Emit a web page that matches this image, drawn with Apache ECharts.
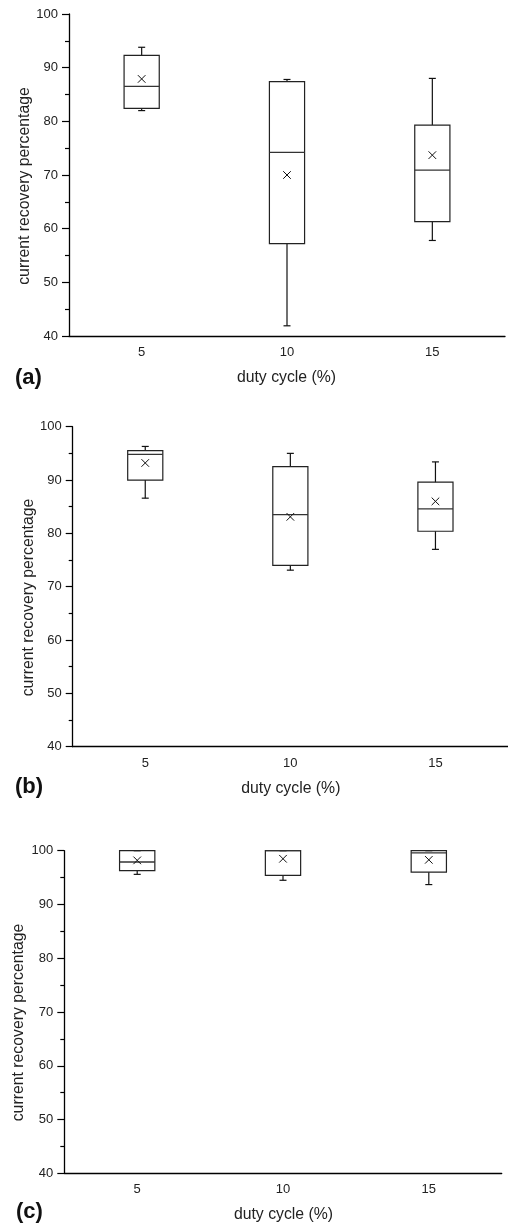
<!DOCTYPE html>
<html>
<head>
<meta charset="utf-8">
<script src="https://cdn.jsdelivr.net/npm/echarts@6/dist/echarts.min.js"></script>
<style>
html,body{margin:0;padding:0;background:#fff;}
#chart{width:508px;height:1225px;}
</style>
</head>
<body>
<div id="chart"></div>
<script>
// ---- data ----
const categories = ['5', '10', '15'];
const yTicks = [40, 50, 60, 70, 80, 90, 100];
const xTitle = 'duty cycle (%)';
const yTitle = 'current recovery percentage';
const panelLabels = ['(a)', '(b)', '(c)'];

// panel (a)
const aWhiskerLow  = [82.0, 41.9, 57.8];
const aQ1          = [82.4, 57.2, 61.3];
const aMedian      = [86.5, 74.2, 70.9];
const aQ3          = [92.3, 87.4, 79.3];
const aWhiskerHigh = [93.8, 87.8, 88.0];
const aMean        = [87.9, 70.0, 73.7];

// panel (b)
const bWhiskerLow  = [86.6, 73.1, 77.0];
const bQ1          = [90.0, 74.0, 80.4];
const bMedian      = [94.8, 83.5, 84.6];
const bQ3          = [95.5, 92.5, 89.6];
const bWhiskerHigh = [96.3, 95.0, 93.4];
const bMean        = [93.2, 83.1, 86.0];

// panel (c)
const cWhiskerLow  = [95.6, 94.5, 93.7];
const cQ1          = [96.3, 95.4, 96.0];
const cMedian      = [97.9, 100.0, 99.6];
const cQ3          = [100.0, 100.0, 100.0];
const cWhiskerHigh = [100.0, 100.0, 100.0];
const cMean        = [98.2, 98.5, 98.3];

const panels = [
  [aWhiskerLow, aQ1, aMedian, aQ3, aWhiskerHigh, aMean],
  [bWhiskerLow, bQ1, bMedian, bQ3, bWhiskerHigh, bMean],
  [cWhiskerLow, cQ1, cMedian, cQ3, cWhiskerHigh, cMean]
];

// ---- layout ----
const FONT = '"Liberation Sans", Arial, sans-serif';
const grids = [
  {left: 69,   top: 14,    width: 436,   height: 322},
  {left: 72.7, top: 426.7, width: 435.3, height: 320},
  {left: 64.3, top: 850.7, width: 437.4, height: 322.6}
];
const yTitlePos = [[25, 186], [28.3, 597.5], [18.3, 1022.5]];
const xTitlePos = [[286.5, 377.7], [290.8, 788.3], [283.5, 1215]];
const labelPos  = [[15, 378], [15, 786.7], [16, 1211.7]];

function renderItem(params, api) {
  const i = api.value(0);
  const x = api.coord([i, api.value(3)])[0];
  const bw = api.size([1, 0])[0] * 0.121;
  const y = v => api.coord([i, v])[1];
  const lo = y(api.value(1)), q1 = y(api.value(2)), md = y(api.value(3)),
        q3 = y(api.value(4)), hi = y(api.value(5)), mn = y(api.value(6));
  const cap = 3.5, xs = 3.8;
  const st = {stroke: '#111', lineWidth: 1.2, fill: null};
  const ln = (x1, y1, x2, y2, s) => ({type: 'line', shape: {x1, y1, x2, y2}, style: s || st});
  return {
    type: 'group',
    children: [
      ln(x, hi, x, q3),
      ln(x - cap, hi, x + cap, hi),
      ln(x, q1, x, lo),
      ln(x - cap, lo, x + cap, lo),
      {type: 'rect', shape: {x: x - bw, y: q3, width: 2 * bw, height: q1 - q3},
       style: {stroke: '#222', lineWidth: 1.2, fill: 'rgba(0,0,0,0)'}},
      ln(x - bw, md, x + bw, md, {stroke: '#333', lineWidth: 1.3}),
      ln(x - xs, mn - xs, x + xs, mn + xs, {stroke: '#111', lineWidth: 1}),
      ln(x - xs, mn + xs, x + xs, mn - xs, {stroke: '#111', lineWidth: 1})
    ]
  };
}

const option = {
  backgroundColor: '#fff',
  animation: false,
  grid: grids.map(g => Object.assign({containLabel: false}, g)),
  xAxis: grids.map((g, k) => ({
    type: 'category',
    gridIndex: k,
    data: categories,
    boundaryGap: true,
    axisLine: {lineStyle: {color: '#000', width: 1.3}},
    axisTick: {alignWithLabel: true, length: 6, lineStyle: {color: '#000', width: 1.2}},
    axisLabel: {color: '#222', fontSize: 13, fontFamily: FONT, margin: 10},
    splitLine: {show: false}
  })),
  yAxis: grids.map((g, k) => ({
    type: 'value',
    gridIndex: k,
    min: yTicks[0],
    max: yTicks[yTicks.length - 1],
    interval: 10,
    axisLine: {show: true, lineStyle: {color: '#000', width: 1.3}},
    axisTick: {show: true, length: 7, lineStyle: {color: '#000', width: 1.2}},
    minorTick: {show: true, splitNumber: 2, length: 4, lineStyle: {color: '#000', width: 1.2}},
    axisLabel: {color: '#222', fontSize: 13, fontFamily: FONT, margin: 11},
    splitLine: {show: false}
  })),
  series: panels.map((p, k) => ({
    type: 'custom',
    xAxisIndex: k,
    yAxisIndex: k,
    renderItem: renderItem,
    encode: {x: 0, y: [1, 2, 3, 4, 5, 6]},
    data: categories.map((c, i) => [i, p[0][i], p[1][i], p[2][i], p[3][i], p[4][i], p[5][i]])
  })),
  graphic: [].concat(
    yTitlePos.map(pos => ({
      type: 'text', x: pos[0], y: pos[1], rotation: Math.PI / 2,
      style: {text: yTitle, fontSize: 15.8, fontFamily: FONT, fill: '#222', align: 'center', verticalAlign: 'middle'}
    })),
    xTitlePos.map(pos => ({
      type: 'text', x: pos[0], y: pos[1],
      style: {text: xTitle, fontSize: 15.8, fontFamily: FONT, fill: '#222', align: 'center', verticalAlign: 'middle'}
    })),
    labelPos.map((pos, k) => ({
      type: 'text', x: pos[0], y: pos[1],
      style: {text: panelLabels[k], fontSize: 22, fontWeight: 'bold', fontFamily: FONT, fill: '#111', align: 'left', verticalAlign: 'middle'}
    }))
  )
};

const chart = echarts.init(document.getElementById('chart'), null, {renderer: 'canvas'});
chart.setOption(option);
</script>
</body>
</html>
